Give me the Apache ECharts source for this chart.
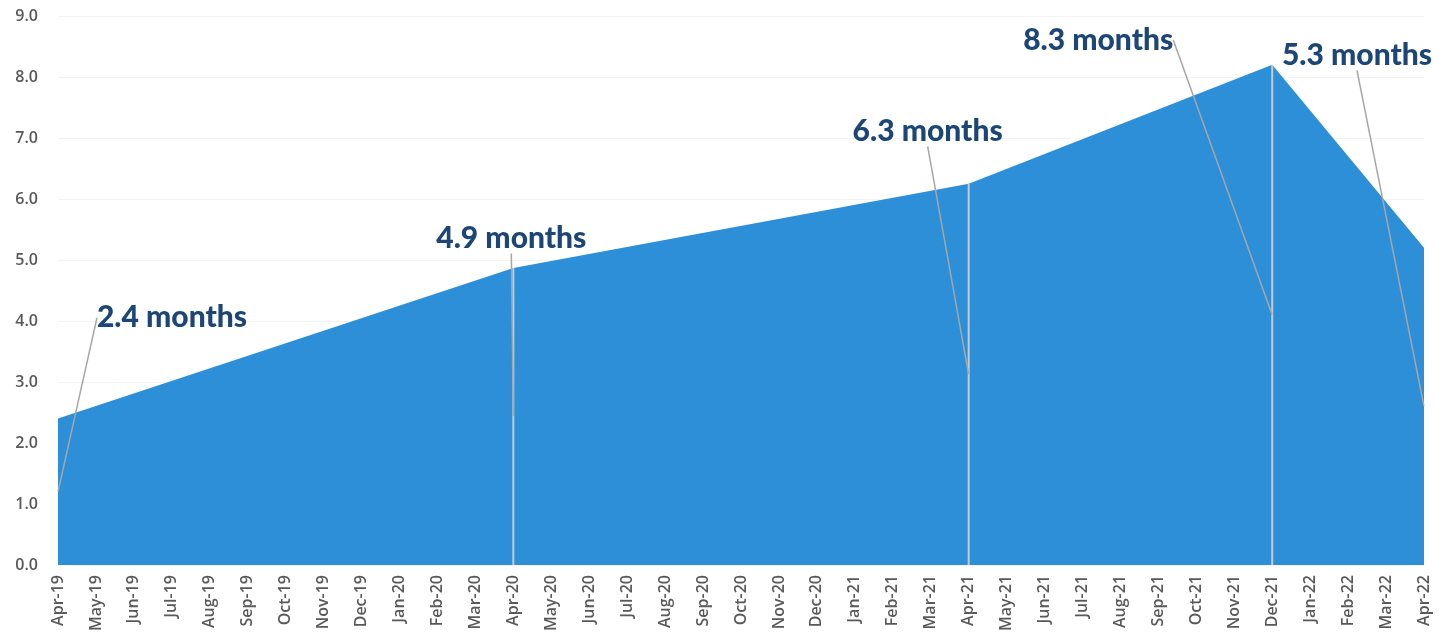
<!DOCTYPE html>
<html>
<head>
<meta charset="utf-8">
<script src="https://cdn.jsdelivr.net/npm/echarts@6/dist/echarts.min.js"></script>
<style>html,body{margin:0;padding:0;background:#fff;}#chart{width:1439px;height:644px;}</style>
</head>
<body>
<div id="chart"></div>
<script>
// ---- data ----
const categories = ['Apr-19','May-19','Jun-19','Jul-19','Aug-19','Sep-19','Oct-19','Nov-19','Dec-19',
  'Jan-20','Feb-20','Mar-20','Apr-20','May-20','Jun-20','Jul-20','Aug-20','Sep-20','Oct-20','Nov-20','Dec-20',
  'Jan-21','Feb-21','Mar-21','Apr-21','May-21','Jun-21','Jul-21','Aug-21','Sep-21','Oct-21','Nov-21','Dec-21',
  'Jan-22','Feb-22','Mar-22','Apr-22'];
const keyMonths = ['Apr-19','Apr-20','Apr-21','Dec-21','Apr-22'];
const keyValues = [2.4, 4.87, 6.25, 8.2, 5.2];
const labelTexts = ['2.4 months','4.9 months','6.3 months','8.3 months','5.3 months'];
const dropLineMonths = ['Apr-20','Apr-21','Dec-21'];
const yMin = 0, yMax = 9, yInterval = 1;

// ---- build ----
const areaData = categories.map(c => {
  const i = keyMonths.indexOf(c);
  return i >= 0 ? keyValues[i] : null;
});
const dropData = categories.map(c => {
  const i = keyMonths.indexOf(c);
  return (i >= 0 && dropLineMonths.indexOf(c) >= 0) ? keyValues[i] : null;
});
const anchorData = keyMonths.map((m, i) => [m, keyValues[i] / 2]);
// label offsets from anchor (px)
const labelOffsets = [[114, -174], [-2, -178], [-41, -243], [-174, -275], [-67, -351]];

const chart = echarts.init(document.getElementById('chart'), null, {renderer: 'canvas'});
const axisFont = 'Open Sans';
chart.setOption({
  animation: false,
  backgroundColor: '#ffffff',
  grid: {left: 58, right: 15, top: 16, bottom: 79, containLabel: false},
  xAxis: {
    type: 'category',
    data: categories,
    boundaryGap: false,
    axisLine: {show: false},
    axisTick: {show: false},
    splitLine: {show: false},
    axisLabel: {
      rotate: 90, interval: 0, margin: 10,
      color: '#595959', fontSize: 16, fontWeight: 600, fontFamily: axisFont
    }
  },
  yAxis: {
    type: 'value',
    min: yMin, max: yMax, interval: yInterval,
    axisLine: {show: false},
    axisTick: {show: false},
    splitLine: {show: true, lineStyle: {color: '#f4f4f4', width: 1}},
    axisLabel: {
      margin: 20, color: '#595959', fontSize: 16, fontWeight: 600, fontFamily: axisFont,
      formatter: v => v.toFixed(1)
    }
  },
  series: [
    {
      type: 'line',
      data: areaData,
      connectNulls: true,
      symbol: 'none',
      lineStyle: {width: 0},
      areaStyle: {color: '#2e8fd9', opacity: 1},
      z: 1
    },
    {
      type: 'bar',
      data: dropData,
      barWidth: 2,
      itemStyle: {color: '#c3cbd3'},
      z: 2
    },
    {
      type: 'scatter',
      data: anchorData,
      symbolSize: 1,
      itemStyle: {color: 'rgba(0,0,0,0)', opacity: 1},
      z: 3,
      label: {
        show: true,
        position: 'inside',
        formatter: p => labelTexts[p.dataIndex],
        color: '#1c4677',
        opacity: 1,
        textBorderWidth: 0,
        fontSize: 30,
        fontWeight: 900,
        fontFamily: 'Lato'
      },
      labelLine: {show: true, lineStyle: {color: '#a6a6a6', width: 1.5, opacity: 1}},
      labelLayout: p => ({dx: labelOffsets[p.dataIndex][0], dy: labelOffsets[p.dataIndex][1]})
    }
  ]
});
</script>
</body>
</html>
